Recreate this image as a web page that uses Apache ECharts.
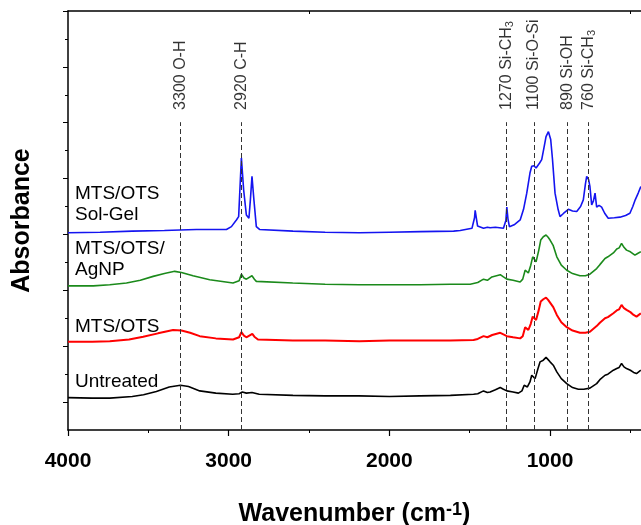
<!DOCTYPE html>
<html>
<head>
<meta charset="utf-8">
<script src="https://cdn.jsdelivr.net/npm/echarts@6/dist/echarts.min.js"></script>
<style>
  html, body { margin: 0; padding: 0; background: #fff; }
  #chart { width: 641px; height: 525px; }
</style>
</head>
<body>
<div id="chart"></div>
<script>
// wavenumber (cm-1), offset absorbance
const untreated = [[4000,0.08],[3850,0.07],[3740,0.07],[3600,0.10],[3530,0.13],[3450,0.19],[3370,0.27],[3300,0.30],[3250,0.28],[3180,0.20],[3080,0.16],[2975,0.14],[2935,0.15],[2915,0.18],[2890,0.16],[2855,0.17],[2810,0.14],[2600,0.12],[2400,0.11],[2190,0.11],[2000,0.10],[1810,0.11],[1620,0.12],[1476,0.14],[1450,0.15],[1414,0.20],[1390,0.17],[1373,0.18],[1340,0.22],[1310,0.26],[1290,0.23],[1269,0.20],[1230,0.18],[1197,0.16],[1175,0.20],[1161,0.30],[1141,0.27],[1125,0.36],[1114,0.48],[1093,0.42],[1075,0.60],[1062,0.72],[1042,0.75],[1035,0.72],[1025,0.80],[1012,0.76],[1000,0.72],[980,0.66],[958,0.54],[930,0.42],[896,0.33],[860,0.26],[824,0.23],[790,0.23],[752,0.25],[710,0.33],[690,0.40],[658,0.48],[640,0.50],[630,0.53],[606,0.57],[585,0.60],[570,0.62],[555,0.69],[540,0.63],[524,0.60],[500,0.57],[480,0.53],[462,0.51],[450,0.54],[435,0.57]];
const mtsOts = [[4000,1.08],[3850,1.08],[3740,1.09],[3620,1.12],[3532,1.17],[3440,1.23],[3346,1.29],[3294,1.28],[3240,1.24],[3180,1.18],[3080,1.14],[2973,1.12],[2935,1.16],[2921,1.25],[2905,1.19],[2890,1.16],[2853,1.22],[2840,1.17],[2818,1.12],[2600,1.10],[2400,1.10],[2187,1.09],[2000,1.10],[1807,1.10],[1621,1.10],[1476,1.11],[1450,1.13],[1414,1.18],[1390,1.16],[1360,1.20],[1310,1.24],[1290,1.21],[1269,1.18],[1230,1.16],[1186,1.14],[1170,1.18],[1155,1.34],[1135,1.29],[1120,1.40],[1108,1.53],[1087,1.47],[1070,1.65],[1058,1.80],[1042,1.84],[1035,1.81],[1025,1.87],[1012,1.83],[1000,1.80],[980,1.70],[958,1.56],[930,1.43],[896,1.34],[860,1.28],[814,1.24],[780,1.24],[752,1.26],[710,1.36],[690,1.42],[658,1.50],[640,1.52],[630,1.55],[606,1.59],[585,1.64],[570,1.66],[555,1.74],[540,1.68],[524,1.65],[500,1.61],[480,1.56],[462,1.53],[450,1.56],[435,1.59]];
const mtsOtsAgNP = [[4000,2.08],[3843,2.08],[3740,2.10],[3636,2.13],[3550,2.18],[3470,2.25],[3400,2.30],[3336,2.34],[3294,2.32],[3222,2.26],[3118,2.19],[2973,2.13],[2935,2.17],[2921,2.29],[2905,2.22],[2890,2.20],[2855,2.26],[2840,2.20],[2828,2.16],[2601,2.13],[2400,2.11],[2187,2.10],[2000,2.10],[1807,2.10],[1621,2.11],[1497,2.11],[1450,2.14],[1414,2.20],[1390,2.18],[1362,2.24],[1310,2.28],[1290,2.24],[1269,2.20],[1230,2.18],[1186,2.15],[1170,2.20],[1155,2.36],[1135,2.31],[1120,2.45],[1108,2.60],[1087,2.51],[1070,2.72],[1058,2.90],[1042,2.96],[1035,2.93],[1025,2.99],[1012,2.95],[1000,2.90],[980,2.80],[958,2.60],[930,2.45],[896,2.36],[860,2.30],[814,2.26],[780,2.26],[752,2.29],[710,2.39],[690,2.46],[658,2.57],[640,2.60],[630,2.63],[606,2.67],[585,2.74],[570,2.76],[555,2.84],[540,2.77],[524,2.72],[500,2.69],[472,2.63],[455,2.66],[435,2.69]];
const solGel = [[4000,3.03],[3800,3.04],[3600,3.06],[3400,3.07],[3304,3.08],[3201,3.09],[3014,3.09],[2983,3.14],[2952,3.26],[2938,3.32],[2921,4.37],[2907,3.80],[2890,3.35],[2874,3.29],[2865,3.62],[2855,4.04],[2843,3.62],[2828,3.14],[2808,3.09],[2600,3.06],[2400,3.04],[2187,3.03],[2000,3.04],[1807,3.05],[1600,3.06],[1559,3.07],[1486,3.11],[1470,3.30],[1466,3.43],[1458,3.28],[1451,3.15],[1414,3.11],[1390,3.13],[1373,3.12],[1340,3.13],[1290,3.11],[1275,3.25],[1269,3.49],[1262,3.28],[1253,3.14],[1220,3.18],[1186,3.26],[1165,3.45],[1145,3.74],[1125,4.10],[1114,4.22],[1100,4.23],[1087,4.19],[1065,4.28],[1052,4.34],[1038,4.55],[1025,4.75],[1010,4.84],[996,4.70],[985,4.35],[969,3.74],[950,3.45],[938,3.32],[915,3.38],[886,3.45],[860,3.42],[834,3.41],[810,3.50],[793,3.62],[780,3.90],[772,4.04],[760,3.98],[752,3.86],[741,3.53],[730,3.60],[720,3.74],[710,3.49],[695,3.52],[679,3.49],[660,3.38],[638,3.29],[600,3.30],[565,3.31],[530,3.34],[503,3.38],[485,3.50],[470,3.62],[450,3.75],[435,3.86]];

const seriesNames = ['Untreated', 'MTS/OTS', 'MTS/OTS/AgNP', 'MTS/OTS Sol-Gel'];
const seriesColors = ['#000000', '#ff0000', '#1b8a1b', '#1414f0'];
const seriesData = [untreated, mtsOts, mtsOtsAgNP, solGel];

const bandPos = [3300, 2920, 1270, 1100, 890, 760];
const bandNames = ['O-H', 'C-H', 'Si-CH3', 'Si-O-Si', 'Si-OH', 'Si-CH3'];

const xMajorTicks = [4000, 3000, 2000, 1000];
const xMinorTicks = [3500, 2500, 1500, 500];
const yMajorTicks = [0, 1, 2, 3, 4, 5, 6, 7];
const yMinorTicks = [0.5, 1.5, 2.5, 3.5, 4.5, 5.5, 6.5];

const FONT = 'Liberation Sans, Arial, sans-serif';
const X_MIN = 434; // right edge of the visible plot (picture is cut there)
const chart = echarts.init(document.getElementById('chart'), null, { renderer: 'canvas' });

function bandLabel(pos, name) {
  if (/CH3$/.test(name)) {
    return '{a|' + pos + ' ' + name.slice(0, -1) + '}{s|3}';
  }
  return '{a|' + pos + ' ' + name + '}';
}

const lineSeries = seriesData.map((d, i) => ({
  name: seriesNames[i],
  type: 'line',
  data: d,
  showSymbol: false,
  symbol: 'none',
  smooth: false,
  lineStyle: { color: seriesColors[i], width: i === 1 ? 2 : 1.6 },
  z: 3
}));

lineSeries[0].markLine = {
  silent: true,
  symbol: 'none',
  label: { show: false },
  lineStyle: { type: [5, 3], color: '#333', width: 1 },
  data: bandPos.map(p => [{ coord: [p, -0.5] }, { coord: [p, 5.01] }])
};

const labelSeries = {
  type: 'scatter',
  silent: true,
  symbolSize: 0,
  data: bandPos.map((p, i) => ({ value: [p, 5.23], name: bandLabel(p, bandNames[i]) })),
  label: {
    show: true,
    position: [0, 0],
    rotate: 90,
    align: 'left',
    verticalAlign: 'middle',
    formatter: p => p.name,
    rich: {
      a: { fontFamily: FONT, fontSize: 16, color: '#000', lineHeight: 18 },
      s: { fontFamily: FONT, fontSize: 11, color: '#000', verticalAlign: 'bottom', lineHeight: 18 }
    }
  }
};

function sideText(text, x, y) {
  return {
    type: 'text', x: x, y: y, silent: true,
    style: {
      text: text, font: '19px ' + FONT, fill: '#000',
      align: 'left', verticalAlign: 'middle', textAlign: 'left', textVerticalAlign: 'middle'
    }
  };
}

chart.setOption({
  animation: false,
  backgroundColor: '#fff',
  grid: { left: 68, right: 0, top: 11, bottom: 95, outerBoundsMode: 'none', containLabel: false },
  xAxis: [
    {
      type: 'value', position: 'bottom', min: X_MIN, max: 4000, inverse: true,
      name: 'Wavenumber (cm{sup|-1})',
      nameLocation: 'middle', nameGap: 71,
      nameTextStyle: {
        fontFamily: FONT, fontSize: 25, fontWeight: 'bold', color: '#000',
        rich: { sup: { fontFamily: FONT, fontSize: 18, fontWeight: 'bold', verticalAlign: 'top', color: '#000', padding: [0, 0, 8, 0] } }
      },
      axisLine: { show: true, onZero: false, lineStyle: { color: '#000', width: 1.5 } },
      axisTick: { show: true, inside: false, length: 6, customValues: xMajorTicks, lineStyle: { color: '#000', width: 1.2 } },
      axisLabel: {
        show: true, margin: 21, customValues: xMajorTicks,
        formatter: v => String(v),
        fontFamily: FONT, fontSize: 21, fontWeight: 'bold', color: '#000'
      },
      splitLine: { show: false }
    },
    {
      type: 'value', position: 'bottom', min: X_MIN, max: 4000, inverse: true,
      axisLine: { show: false, onZero: false },
      axisTick: { show: true, inside: false, length: 3, customValues: xMinorTicks, lineStyle: { color: '#000', width: 1 } },
      axisLabel: { show: false },
      splitLine: { show: false }
    },
    {
      type: 'value', position: 'top', min: X_MIN, max: 4000, inverse: true,
      axisLine: { show: true, onZero: false, lineStyle: { color: '#000', width: 1.5 } },
      axisTick: { show: true, inside: true, length: 3, customValues: [2500, 500], lineStyle: { color: '#000', width: 1 } },
      axisLabel: { show: false },
      splitLine: { show: false }
    }
  ],
  yAxis: [
    {
      type: 'value', position: 'left', min: -0.5, max: 7, interval: 0.5,
      name: 'Absorbance', nameLocation: 'middle', nameGap: 33,
      nameTextStyle: { fontFamily: FONT, fontSize: 25, fontWeight: 'bold', color: '#000' },
      axisLine: { show: true, onZero: false, lineStyle: { color: '#000', width: 1.5 } },
      axisTick: { show: true, inside: false, length: 5, customValues: yMajorTicks, lineStyle: { color: '#000', width: 1 } },
      axisLabel: { show: false },
      splitLine: { show: false }
    },
    {
      type: 'value', position: 'left', min: -0.5, max: 7, interval: 0.5,
      axisLine: { show: false, onZero: false },
      axisTick: { show: true, inside: false, length: 3, customValues: yMinorTicks, lineStyle: { color: '#000', width: 1 } },
      axisLabel: { show: false },
      splitLine: { show: false }
    }
  ],
  series: lineSeries.concat([labelSeries]),
  graphic: [
    sideText('MTS/OTS', 75, 194),
    sideText('Sol-Gel', 75, 215),
    sideText('MTS/OTS/', 75, 249),
    sideText('AgNP', 75, 270),
    sideText('MTS/OTS', 75, 327),
    sideText('Untreated', 75, 382)
  ]
});
</script>
</body>
</html>
